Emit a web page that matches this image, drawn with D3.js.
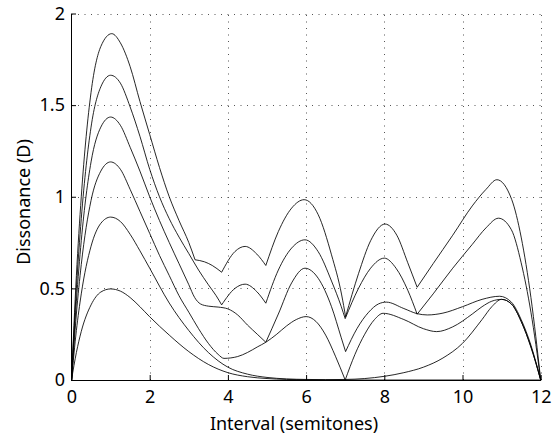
<!DOCTYPE html>
<html>
<head>
<meta charset="utf-8">
<script src="https://cdn.jsdelivr.net/npm/d3@7"></script>
<style>
  body { margin: 0; background: #fff; }
  text { font-family: "Noto Sans", sans-serif; }
</style>
</head>
<body>
<div id="chart"></div>
<script>
// tick values and labels
var xTicks = [0, 2, 4, 6, 8, 10, 12];
var yTicks = [0, 0.5, 1, 1.5, 2];
var yTickLabels = ["0", "0.5", "1", "1.5", "2"];

// dissonance curves (x in semitones, y = D)
var n1x = [0, 0.125, 0.25, 0.5, 0.75, 1, 1.25, 1.5, 1.75, 2, 2.5, 3, 3.5, 4, 4.5, 5, 5.5, 6, 7, 12];
var n1y = [0, 0.15, 0.265, 0.41, 0.48, 0.497, 0.485, 0.45, 0.40, 0.345, 0.245, 0.155, 0.085, 0.04, 0.018, 0.008, 0.003, 0.001, 0, 0];
var n1c = [];

var n2x = [0, 0.125, 0.25, 0.5, 0.75, 1, 1.25, 1.5, 1.75, 2, 2.5, 3, 3.5, 4, 4.5, 5, 5.5, 6, 6.5, 7, 7.5, 8, 8.5, 9, 9.5, 10, 10.5, 10.75, 11, 11.25, 11.5, 11.75, 12];
var n2y = [0, 0.27, 0.47, 0.73, 0.855, 0.889, 0.865, 0.795, 0.705, 0.61, 0.42, 0.27, 0.15, 0.07, 0.032, 0.014, 0.006, 0.003, 0.002, 0.003, 0.008, 0.02, 0.04, 0.07, 0.12, 0.2, 0.33, 0.40, 0.44, 0.415, 0.32, 0.18, 0];
var n2c = [];

var n3x = [0, 0.125, 0.25, 0.5, 0.75, 1, 1.25, 1.5, 1.75, 2, 2.25, 2.5, 2.75, 3, 3.25, 3.5, 3.75, 3.9, 4.25, 4.5, 4.75, 4.97, 5.25, 5.5, 5.75, 6, 6.25, 6.5, 6.75, 7, 7.25, 7.5, 7.75, 7.97, 8.5, 9, 9.34, 9.75, 10.25, 10.5, 10.75, 11, 11.25, 11.5, 11.75, 12];
var n3y = [0, 0.36, 0.63, 0.98, 1.14, 1.19, 1.15, 1.04, 0.92, 0.80, 0.68, 0.57, 0.46, 0.37, 0.28, 0.20, 0.14, 0.118, 0.128, 0.15, 0.18, 0.206, 0.25, 0.295, 0.33, 0.346, 0.32, 0.245, 0.13, 0, 0.14, 0.25, 0.33, 0.364, 0.33, 0.28, 0.264, 0.29, 0.36, 0.40, 0.43, 0.44, 0.415, 0.32, 0.18, 0];
var n3c = [7];

var n4x = [0, 0.125, 0.25, 0.5, 0.75, 1, 1.25, 1.5, 1.75, 2, 2.25, 2.5, 2.75, 3, 3.15, 3.3, 3.5, 3.75, 4, 4.25, 4.5, 4.75, 4.97, 5.29, 5.63, 5.97, 6.31, 6.65, 6.9, 7.01, 7.3, 7.6, 7.85, 8.05, 8.5, 8.84, 9.1, 9.5, 10, 10.5, 10.95, 11.25, 11.5, 11.75, 12];
var n4y = [0, 0.43, 0.76, 1.19, 1.38, 1.435, 1.39, 1.27, 1.14, 1.0, 0.87, 0.75, 0.635, 0.52, 0.45, 0.415, 0.403, 0.398, 0.388, 0.355, 0.30, 0.25, 0.206, 0.36, 0.53, 0.61, 0.555, 0.40, 0.23, 0.155, 0.28, 0.37, 0.415, 0.425, 0.39, 0.362, 0.355, 0.365, 0.40, 0.44, 0.457, 0.425, 0.33, 0.19, 0];
var n4c = [4.97, 7.01];

var n5x = [0, 0.125, 0.25, 0.5, 0.75, 1, 1.25, 1.5, 1.75, 2, 2.25, 2.5, 2.75, 3, 3.25, 3.5, 3.7, 3.84, 4.18, 4.44, 4.74, 4.97, 5.29, 5.63, 5.97, 6.31, 6.65, 6.9, 7.0, 7.34, 7.65, 8.0, 8.3, 8.6, 8.84, 9.25, 9.75, 10.25, 10.6, 10.92, 11.25, 11.5, 11.75, 12];
var n5y = [0, 0.50, 0.88, 1.38, 1.60, 1.663, 1.62, 1.49, 1.33, 1.15, 1.0, 0.88, 0.78, 0.69, 0.60, 0.52, 0.46, 0.41, 0.50, 0.523, 0.482, 0.419, 0.60, 0.72, 0.765, 0.70, 0.54, 0.40, 0.335, 0.50, 0.61, 0.665, 0.61, 0.49, 0.359, 0.47, 0.61, 0.74, 0.83, 0.883, 0.82, 0.64, 0.37, 0];
var n5c = [3.84, 4.97, 7.0, 8.84];

var n6x = [0, 0.125, 0.25, 0.5, 0.75, 1.03, 1.25, 1.5, 1.75, 2, 2.25, 2.5, 2.75, 3, 3.16, 3.4, 3.6, 3.84, 4.18, 4.44, 4.74, 4.97, 5.29, 5.63, 5.95, 6.31, 6.65, 6.91, 7.01, 7.34, 7.65, 8.02, 8.32, 8.6, 8.84, 9.25, 9.75, 10.25, 10.6, 10.88, 11.26, 11.5, 11.75, 12];
var n6y = [0, 0.57, 1.0, 1.57, 1.82, 1.89, 1.84, 1.71, 1.52, 1.34, 1.16, 1.0, 0.87, 0.75, 0.656, 0.645, 0.625, 0.588, 0.701, 0.729, 0.687, 0.625, 0.81, 0.938, 0.984, 0.902, 0.683, 0.464, 0.345, 0.58, 0.76, 0.851, 0.79, 0.64, 0.506, 0.635, 0.79, 0.95, 1.04, 1.093, 0.984, 0.78, 0.45, 0];
var n6c = [3.16, 3.84, 4.97, 7.01, 8.84];

var curves = [[n1x, n1y, n1c], [n2x, n2y, n2c], [n3x, n3y, n3c],
              [n4x, n4y, n4c], [n5x, n5y, n5c], [n6x, n6y, n6c]];

var width = 559;
var height = 437;

var svg = d3.select("#chart")
    .append("svg")
    .attr("width", width)
    .attr("height", height);

var x = d3.scaleLinear().domain([0, 12]).range([71.5, 540.7]);
var y = d3.scaleLinear().domain([0, 2]).range([380, 13.5]);

// dotted grid
var grid = svg.append("g")
    .attr("stroke", "#555")
    .attr("stroke-width", 1)
    .attr("stroke-dasharray", "1,5.5");

grid.selectAll("line.vx")
    .data(xTicks.slice(1))
    .enter()
    .append("line")
    .attr("x1", function (d) { return Math.round(x(d)) + 0.5; })
    .attr("x2", function (d) { return Math.round(x(d)) + 0.5; })
    .attr("y1", y(0))
    .attr("y2", y(2));

grid.selectAll("line.hy")
    .data(yTicks.slice(1))
    .enter()
    .append("line")
    .attr("x1", x(0))
    .attr("x2", x(12))
    .attr("y1", function (d) { return Math.round(y(d)) + 0.5; })
    .attr("y2", function (d) { return Math.round(y(d)) + 0.5; });

// curves, split at the cusps so the corners stay sharp
var line = d3.line()
    .x(function (d) { return x(d[0]); })
    .y(function (d) { return y(d[1]); })
    .curve(d3.curveMonotoneX);

var segments = [];
curves.forEach(function (c) {
    var seg = [];
    c[0].forEach(function (xv, i) {
        seg.push([xv, c[1][i]]);
        if (c[2].indexOf(xv) >= 0) {
            segments.push(seg);
            seg = [[xv, c[1][i]]];
        }
    });
    segments.push(seg);
});

svg.append("g")
    .selectAll("path")
    .data(segments)
    .enter()
    .append("path")
    .attr("d", line)
    .attr("fill", "none")
    .attr("stroke", "#000")
    .attr("stroke-width", 0.85);

// axes
var xAxis = d3.axisBottom(x)
    .tickValues(xTicks)
    .tickSize(-5)
    .tickSizeOuter(0)
    .tickPadding(10)
    .tickFormat(d3.format("d"));

var yAxis = d3.axisLeft(y)
    .tickValues(yTicks)
    .tickSize(-5)
    .tickSizeOuter(0)
    .tickPadding(6)
    .tickFormat(function (d, i) { return yTickLabels[i]; });

var gx = svg.append("g")
    .attr("transform", "translate(0," + y(0) + ")")
    .call(xAxis);

var gy = svg.append("g")
    .attr("transform", "translate(" + (x(0) - 0.5) + ",0)")
    .call(yAxis);

[gx, gy].forEach(function (g) {
    g.attr("font-family", null).attr("font-size", null);
    g.selectAll("text").attr("font-size", 18).attr("fill", "#000");
    g.selectAll("line").attr("stroke", "#000");
    g.select(".domain").attr("stroke", "#000");
});

// axis labels
svg.append("text")
    .attr("x", 294)
    .attr("y", 430)
    .attr("text-anchor", "middle")
    .attr("font-size", 18)
    .text("Interval (semitones)");

svg.append("text")
    .attr("transform", "translate(30,202) rotate(-90)")
    .attr("text-anchor", "middle")
    .attr("font-size", 18)
    .text("Dissonance (D)");
</script>
</body>
</html>
